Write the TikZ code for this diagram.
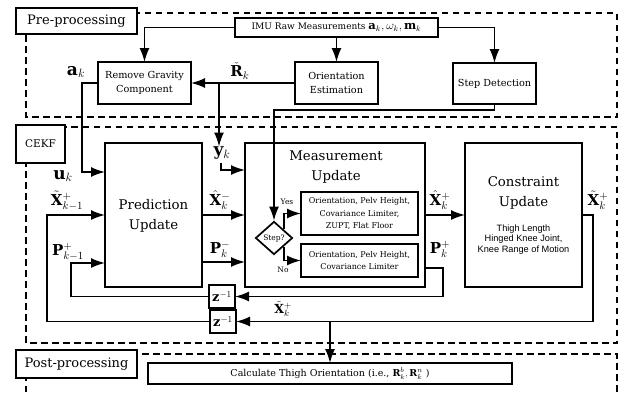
\documentclass[tikz,border=0pt]{standalone}
\usepackage{fontspec}
\setmainfont{DejaVu Serif}
\setsansfont{Liberation Sans}
\usetikzlibrary{arrows.meta,shapes.geometric}
\begin{document}
\begin{tikzpicture}[x=1pt,y=-1pt,
  lw/.style={line width=1.7pt},
  arr/.style={line width=1.7pt,-{Latex[length=14pt,width=10pt]}},
  dashbox/.style={line width=1.6pt,dash pattern=on 6.5pt off 4.5pt},
  box/.style={draw,line width=1.7pt,fill=white,inner sep=0pt,outer sep=0pt,align=center},
  tag/.style={box,font=\fontsize{13}{15}\selectfont},
  small/.style={box,font=\fontsize{9.7}{14}\selectfont},
  tiny/.style={box,font=\fontsize{8}{12.3}\selectfont},
  big/.style={inner sep=0pt,align=center,font=\fontsize{13.3}{20}\selectfont},
  lbl/.style={inner sep=0pt,font=\fontsize{15}{17}\selectfont},
  lbllow/.style={inner sep=0pt,font=\fontsize{17}{19}\selectfont},
  tinylbl/.style={inner sep=0pt,font=\fontsize{7.5}{8}\selectfont}
]
\useasboundingbox (0,0) rectangle (627,392);
% dashed group boxes
\draw[dashbox] (26,13) rectangle (617,117);
\draw[dashbox] (26,127) rectangle (617,343);
\draw[dashbox] (26,392) -- (26,354) -- (617,354) -- (617,392);
% group labels
\node[tag,minimum width=121pt,minimum height=26pt] (pre) at (76.5,21) {Pre-processing};
\node[box,font=\fontsize{10.5}{12}\selectfont,minimum width=49pt,minimum height=38pt] (cekf) at (40.5,144) {CEKF};
\node[tag,minimum width=121pt,minimum height=28pt] (post) at (76.5,364) {Post-processing};
% pre-processing blocks
\node[box,font=\fontsize{9}{11}\selectfont,minimum width=203pt,minimum height=19pt] (imu) at (336.5,27.5)
  {IMU Raw Measurements {\fontsize{11.5}{12}\selectfont$\mathbf{a}_k,\omega_k,\mathbf{m}_k$}};
\node[small,minimum width=93pt,minimum height=42pt] (rg) at (144.5,83) {Remove Gravity\\Component};
\node[small,minimum width=83pt,minimum height=42pt] (oe) at (336.5,83) {Orientation\\Estimation};
\node[small,minimum width=83pt,minimum height=41pt] (sd) at (494.5,83.5) {Step Detection};
% CEKF blocks
\node[box,minimum width=97pt,minimum height=144pt] (pred) at (153.5,215) {};
\node[big] (predt) at (153.5,216) {Prediction\\Update};
\node[box,minimum width=180pt,minimum height=144pt] (meas) at (335,215) {};
\node[big] (meast) at (336,167) {Measurement\\Update};
\node[box,minimum width=117pt,minimum height=144pt] (cons) at (523.5,215) {};
\node[big] (const) at (523.5,193) {Constraint\\Update};
\node[inner sep=0pt,align=center,font=\sffamily\fontsize{9.2}{10.6}\selectfont] (consd) at (523.5,239.5)
  {Thigh Length\\Hinged Knee Joint,\\Knee Range of Motion};
\node[tiny,minimum width=117pt,minimum height=43pt] (yes) at (359.5,213.5)
  {Orientation, Pelv Height,\\Covariance Limiter,\\ZUPT, Flat Floor};
\node[tiny,minimum width=117pt,minimum height=33pt] (no) at (359.5,260.5)
  {Orientation, Pelv Height,\\Covariance Limiter};
\node[draw,lw,diamond,fill=white,inner sep=0pt,minimum width=37pt,minimum height=33pt,
  font=\fontsize{7.5}{8}\selectfont] (dia) at (274,238) {Step?};
\node[box,font=\fontsize{13}{14}\selectfont,minimum width=26pt,minimum height=23pt] (z1) at (222,296.5) {$\mathbf{z}^{-1}$};
\node[box,font=\fontsize{13}{14}\selectfont,minimum width=26pt,minimum height=23pt] (z2) at (223,321.5) {$\mathbf{z}^{-1}$};
% post-processing
\node[box,font=\fontsize{9.5}{11}\selectfont,minimum width=364pt,minimum height=21pt] (calc) at (330,373.5)
  {Calculate Thigh Orientation (i.e., $\mathbf{R}_k^{b}, \mathbf{R}_k^{n}$ )};
% labels
\node[lbllow] (ak) at (76,72) {$\mathbf{a}_k$};
\node[lbl] (rk) at (240,71) {$\check{\mathbf{R}}_k$};
\node[lbllow] (yk) at (222,153) {$\mathbf{y}_k$};
\node[lbllow] (uk) at (63,176) {$\mathbf{u}_k$};
\node[lbl] (xkm) at (67,201) {$\tilde{\mathbf{X}}^+_{k-1}$};
\node[lbl] (pkm) at (68,252) {$\mathbf{P}^+_{k-1}$};
\node[lbl] (xhm) at (220,200) {$\hat{\mathbf{X}}^-_k$};
\node[lbl] (pmm) at (220,249) {$\mathbf{P}^-_k$};
\node[lbl] (xhp) at (440,200) {$\hat{\mathbf{X}}^+_k$};
\node[lbl] (ppp) at (440,249) {$\mathbf{P}^+_k$};
\node[lbl] (xtp) at (598,200) {$\tilde{\mathbf{X}}^+_k$};
\node[lbl,font=\fontsize{12.5}{14}\selectfont] (xtb) at (283,309) {$\tilde{\mathbf{X}}^+_k$};
\node[tinylbl] (yeslbl) at (287,202) {Yes};
\node[tinylbl] (nolbl) at (283,270) {No};
% coordinates
\coordinate (br) at (219,83);
\coordinate (ak2) at (82,172);
\coordinate (xl) at (47,215);
\coordinate (pl) at (71,263);
\coordinate (pm) at (202,262);
\coordinate (pp) at (443,268);
\coordinate (co) at (593,215);
\coordinate (cb) at (330,321.5);
\coordinate (sdc) at (274,110);
\coordinate (yk1) at (221,163);
\coordinate (yk2) at (221,170);
% connectors
\draw[arr] (imu.west) -| (rg.north);
\draw[arr] (imu) -- (oe);
\draw[arr] (imu.east) -| (sd.north);
\draw[arr] (oe.west) -- (rg.east);
\draw[arr] (br) -- (br |- yk.north);
\draw[arr] (yk1) -- (yk2) -- (yk2 -| meas.west);
\draw[arr] (rg.west) -| (ak2) -- (ak2 -| pred.west);
\draw[arr] (z2.west) -| (xl) -- (pred.west);
\draw[arr] (z1.west) -| (pl) -- (pl -| pred.west);
\draw[arr] (pred.east) -- (meas.west);
\draw[arr] (pm) -- (pm -| meas.west);
\draw[arr] (sd.south) |- (sdc) -- (dia.north);
\draw[arr] (dia.north east) |- (yes.west);
\draw[arr] (dia.south east) |- (no.west);
\draw[arr] (meas.east) -- (cons.west);
\draw[arr] (pp -| meas.east) -- (pp) |- (z1.east);
\draw[arr] (cons.east) -- (co) |- (z2.east);
\draw[arr] (cb) -- (calc.north);
\end{tikzpicture}
\end{document}
